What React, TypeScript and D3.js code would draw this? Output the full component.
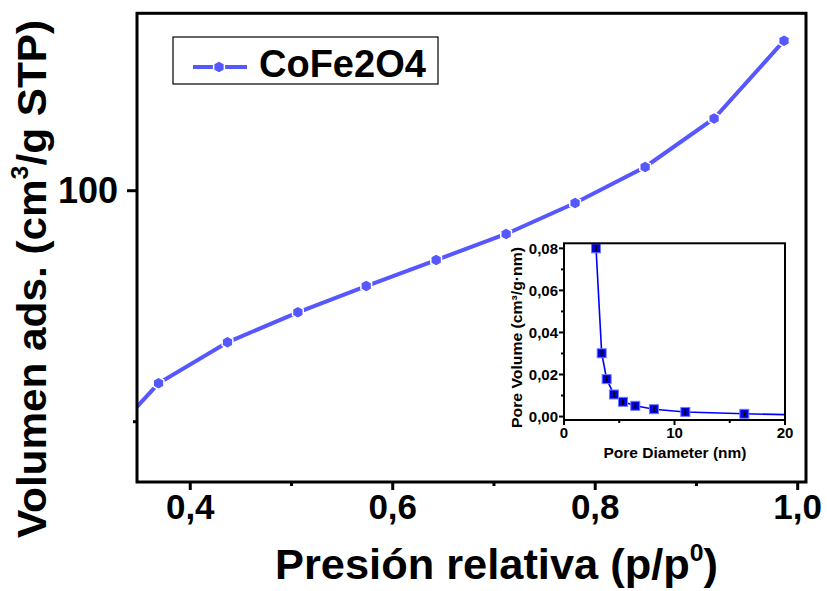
import React from "react";
import * as d3 from "d3";

// Adsorption isotherm (relative pressure vs adsorbed volume)
const P_REL = [0.3001, 0.3687, 0.4368, 0.5063, 0.5738, 0.6429, 0.712, 0.7801, 0.8493, 0.9174, 0.9865];
const V_ADS = [42.0, 58.31, 67.19, 73.68, 79.37, 85.0, 90.63, 97.34, 105.13, 115.63, 132.47];

// Pore size distribution (inset)
const PORE_D = [2.9, 3.41, 3.86, 4.52, 5.34, 6.45, 8.14, 10.98, 16.32, 26.0];
const PORE_V = [0.08, 0.0301, 0.0178, 0.0105, 0.007, 0.0051, 0.0035, 0.0022, 0.0013, 0.0003];

const X_TICKS = [0.4, 0.6, 0.8, 1.0];
const X_MINOR = [0.5, 0.7, 0.9];
const Y_TICKS = [100];
const Y_MINOR = [50];
const IN_X_TICKS = [0, 10, 20];
const IN_X_MINOR = [5, 15];
const IN_Y_TICKS = [0, 0.02, 0.04, 0.06, 0.08];
const IN_Y_MINOR = [0.01, 0.03, 0.05, 0.07];

const SERIES_NAME = "CoFe2O4";
const MAIN_COLOR = "#5757ff";
const INSET_COLOR = "#0000ff";
const FONT = "'Liberation Sans', Arial, Helvetica, sans-serif";

const comma = (fmt: string) => (v: number) => d3.format(fmt)(v).replace(".", ",");

function hexPath(r: number) {
  const pts = d3.range(6).map((k) => {
    const a = (-90 + k * 60) * (Math.PI / 180);
    return [r * Math.cos(a), r * Math.sin(a)];
  });
  return "M" + pts.map((p) => p.join(",")).join("L") + "Z";
}

export default function App() {
  const W = 827;
  const H = 591;
  // main plot frame
  const L = 137, R = 806, T = 13.3, B = 482;
  const x = d3.scaleLinear().domain([0.3474, 1.0082]).range([L, R]);
  const y = d3.scaleLinear().domain([36.95, 138.4]).range([B, T]);

  // inset frame
  const iL = 564, iR = 785, iT = 243.3, iB = 420;
  const ix = d3.scaleLinear().domain([0, 20]).range([iL, iR]);
  const iy = d3.scaleLinear().domain([-0.00164, 0.0824]).range([iB, iT]);

  const mainLine = d3
    .line<number>()
    .x((_, i) => x(P_REL[i]))
    .y((d) => y(d));
  const insetLine = d3
    .line<number>()
    .x((_, i) => ix(PORE_D[i]))
    .y((d) => iy(d));

  const hex = hexPath(6.2);
  const fmtX = comma(".1f");
  const fmtIY = comma(".2f");

  return (
    <svg
      width={W}
      height={H}
      viewBox={`0 0 ${W} ${H}`}
      style={{ position: "absolute", left: 0, top: 0, background: "#fff" }}
      fontFamily={FONT}
      fontWeight="bold"
    >
      <defs>
        <clipPath id="mainClip">
          <rect x={L} y={T} width={R - L} height={B - T} />
        </clipPath>
        <clipPath id="insetClip">
          <rect x={iL} y={iT} width={iR - iL} height={iB - iT} />
        </clipPath>
      </defs>
      <rect x={0} y={0} width={W} height={H} fill="#fff" />

      {/* isotherm */}
      <g clipPath="url(#mainClip)">
        <path d={mainLine(V_ADS) || ""} fill="none" stroke={MAIN_COLOR} strokeWidth={4} />
        {V_ADS.map((v, i) => (
          <path
            key={i}
            d={hex}
            transform={`translate(${x(P_REL[i])},${y(v)})`}
            fill={MAIN_COLOR}
            stroke="#fff"
            strokeWidth={1.5}
          />
        ))}
      </g>

      {/* main frame */}
      <rect x={L} y={T} width={R - L} height={B - T} fill="none" stroke="#000" strokeWidth={3} />

      {/* x axis ticks */}
      {X_TICKS.map((t) => (
        <g key={"xt" + t}>
          <line x1={x(t)} x2={x(t)} y1={B} y2={B + 8} stroke="#000" strokeWidth={3} />
          <text x={x(t)} y={519} textAnchor="middle" fontSize={35}>
            {fmtX(t)}
          </text>
        </g>
      ))}
      {X_MINOR.map((t) => (
        <line key={"xm" + t} x1={x(t)} x2={x(t)} y1={B} y2={B + 4} stroke="#000" strokeWidth={3} />
      ))}

      {/* y axis ticks */}
      {Y_TICKS.map((t) => (
        <g key={"yt" + t}>
          <line x1={L - 10} x2={L} y1={y(t)} y2={y(t)} stroke="#000" strokeWidth={3} />
          <text x={118} y={y(t) + 12.5} textAnchor="end" fontSize={36}>
            {t}
          </text>
        </g>
      ))}
      {Y_MINOR.map((t) => (
        <line key={"ym" + t} x1={L - 4} x2={L} y1={y(t)} y2={y(t)} stroke="#000" strokeWidth={3} />
      ))}

      {/* axis titles */}
      <text x={275} y={579} fontSize={42} textLength={443} lengthAdjust="spacingAndGlyphs">
        Presión relativa (p/p
        <tspan fontSize={24} dy={-18}>0</tspan>
        <tspan dy={18}>)</tspan>
      </text>
      <text
        transform="translate(46,538) rotate(-90)"
        x={0}
        y={0}
        fontSize={41}
        textLength={518}
        lengthAdjust="spacingAndGlyphs"
      >
        Volumen ads. (cm
        <tspan fontSize={24} dy={-18}>3</tspan>
        <tspan dy={18}>/g STP)</tspan>
      </text>

      {/* legend */}
      <rect x={173} y={37} width={265} height={47} fill="#fff" stroke="#000" strokeWidth={1.2} />
      <line x1={193} x2={247} y1={67} y2={67} stroke={MAIN_COLOR} strokeWidth={4} />
      <path d={hex} transform="translate(219,67)" fill={MAIN_COLOR} stroke="#fff" strokeWidth={1.5} />
      <text x={259} y={77} fontSize={38}>
        {SERIES_NAME}
      </text>

      {/* inset: pore size distribution */}
      <rect x={iL} y={iT} width={iR - iL} height={iB - iT} fill="#fff" />
      <g clipPath="url(#insetClip)">
        <path d={insetLine(PORE_V) || ""} fill="none" stroke={INSET_COLOR} strokeWidth={1.6} />
        {PORE_V.map((v, i) => (
          <g key={i} transform={`translate(${ix(PORE_D[i])},${iy(v)})`}>
            <rect x={-4.5} y={-4.5} width={9} height={9} fill="#0000e6" stroke="#6f7bff" strokeWidth={1} />
            <rect x={-1} y={-2.8} width={2} height={5.6} fill="#000" />
          </g>
        ))}
      </g>
      <rect x={iL} y={iT} width={iR - iL} height={iB - iT} fill="none" stroke="#000" strokeWidth={2} />
      {IN_X_TICKS.map((t) => (
        <g key={"ixt" + t}>
          <line x1={ix(t)} x2={ix(t)} y1={iB} y2={iB + 5} stroke="#000" strokeWidth={2} />
          <text x={ix(t)} y={438} textAnchor="middle" fontSize={15}>
            {t}
          </text>
        </g>
      ))}
      {IN_X_MINOR.map((t) => (
        <line key={"ixm" + t} x1={ix(t)} x2={ix(t)} y1={iB} y2={iB + 3} stroke="#000" strokeWidth={2} />
      ))}
      {IN_Y_TICKS.map((t) => (
        <g key={"iyt" + t}>
          <line x1={iL - 5} x2={iL} y1={iy(t)} y2={iy(t)} stroke="#000" strokeWidth={2} />
          <text x={558} y={iy(t) + 5.3} textAnchor="end" fontSize={15}>
            {fmtIY(t)}
          </text>
        </g>
      ))}
      {IN_Y_MINOR.map((t) => (
        <line key={"iym" + t} x1={iL - 3} x2={iL} y1={iy(t)} y2={iy(t)} stroke="#000" strokeWidth={2} />
      ))}
      <text x={675} y={458} textAnchor="middle" fontSize={15.5}>
        Pore Diameter (nm)
      </text>
      <text
        transform="translate(522,428) rotate(-90)"
        x={0}
        y={0}
        fontSize={14.5}
        textLength={181}
        lengthAdjust="spacingAndGlyphs"
      >
        Pore Volume (cm³/g·nm)
      </text>
    </svg>
  );
}
